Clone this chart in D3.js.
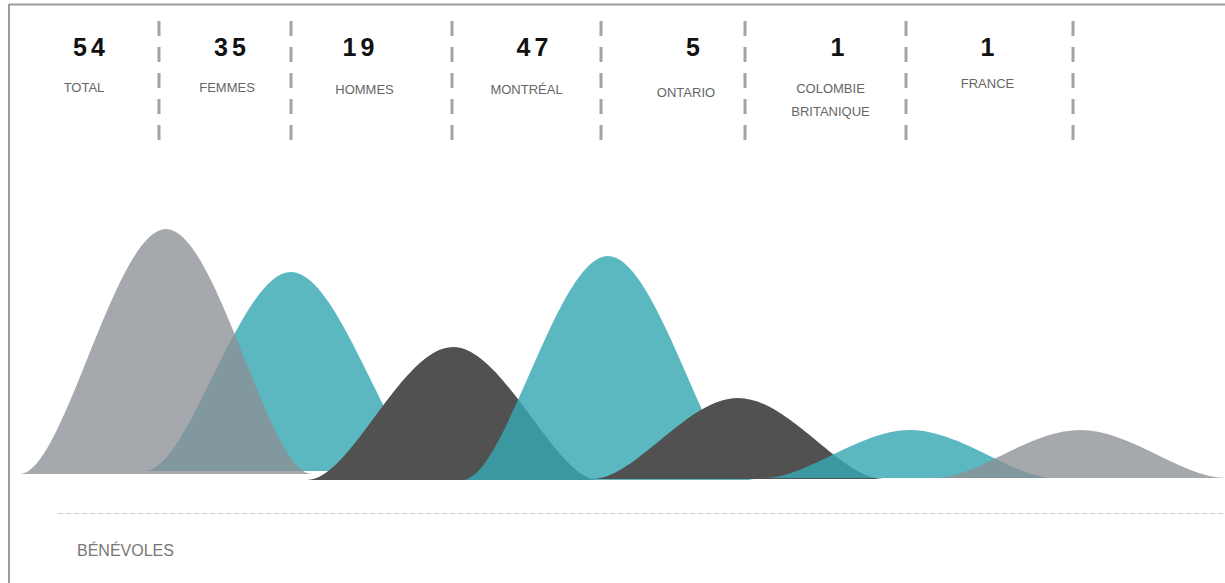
<!DOCTYPE html>
<html lang="fr">
<head>
<meta charset="utf-8">
<title>Bénévoles</title>
<script src="https://cdn.jsdelivr.net/npm/d3@7"></script>
<style>
    html, body { margin: 0; padding: 0; background: #fff; }
    svg { display: block; font-family: "Liberation Sans", Arial, Helvetica, sans-serif; }
</style>
</head>
<body>
<div id="container"></div>
<script>
// --- données ---
const categories = ['TOTAL', 'FEMMES', 'HOMMES', 'MONTRÉAL', 'ONTARIO', 'COLOMBIE BRITANIQUE', 'FRANCE'];
const valeurs = [54, 35, 19, 47, 5, 1, 1];
// hauteur relative de chaque "montagne" (estimée sur l'image)
const hauteurs = [245, 199, 133, 224, 81, 48, 48];
const titre = 'BÉNÉVOLES';

// --- mise en page ---
const width = 1225;
const height = 583;
const bords = [9, 159, 291, 452, 601, 745, 906, 1073]; // séparateurs des colonnes d'en-tête
const baseY = 477;
const demiLargeur = 146;
// petits décalages à la main, comme sur la maquette
const decalNombre = [7, 7, -11, 8, 22, 14, 0];
const decalLabel = [0, 2, -7, 0, 13, 5, -2];
const basesLabel = [92, 92, 94, 94, 97, 93, 88];
const decalPic = [7, 0, 1, 7, -7, 4, 7];
const decalBase = [-3, -6, 3, 3, 2, 1, 1];

// --- styles ---
const teintes = ['gris', 'bleu', 'fonce', 'bleu', 'fonce', 'bleu', 'gris'];
const palette = {
    gris: { fill: 'rgb(140,144,149)', opacity: 0.78 },
    bleu: { fill: 'rgb(55,168,179)', opacity: 0.82 },
    fonce: { fill: '#515151', opacity: 1 }
};
// ordre d'empilement (le total gris passe par-dessus les femmes)
const ordre = [1, 0, 2, 3, 4, 5, 6];

const svg = d3.select('#container')
    .append('svg')
    .attr('width', width)
    .attr('height', height);

// cadre
svg.append('line')
    .attr('x1', 9).attr('x2', width).attr('y1', 4.5).attr('y2', 4.5)
    .attr('stroke', '#9b9b9b').attr('stroke-width', 2);
svg.append('line')
    .attr('x1', 9).attr('x2', 9).attr('y1', 4).attr('y2', height)
    .attr('stroke', '#9b9b9b').attr('stroke-width', 2);

// échelles
const x = d3.scaleOrdinal().domain(categories).range(bords.slice(1));
const centre = d3.scaleOrdinal().domain(categories)
    .range(bords.slice(1).map((b, i) => (b + bords[i]) / 2));
const y = d3.scaleLinear().domain([0, 250]).range([baseY, baseY - 250]);

// séparateurs pointillés
svg.append('g')
    .selectAll('line')
    .data(categories)
    .join('line')
    .attr('x1', d => x(d)).attr('x2', d => x(d))
    .attr('y1', 21).attr('y2', 141)
    .attr('stroke', '#a3a3a3')
    .attr('stroke-width', 3)
    .attr('stroke-dasharray', '15 11');

// chiffres
svg.append('g')
    .selectAll('text')
    .data(categories)
    .join('text')
    .attr('x', (d, i) => centre(d) + decalNombre[i])
    .attr('y', 56)
    .attr('text-anchor', 'middle')
    .attr('font-size', 25)
    .attr('font-weight', 'bold')
    .attr('letter-spacing', 4)
    .attr('fill', '#111')
    .text((d, i) => valeurs[i]);

// libellés
const labels = svg.append('g')
    .selectAll('text')
    .data(categories)
    .join('text')
    .attr('text-anchor', 'middle')
    .attr('font-size', 13)
    .attr('fill', '#666');

labels.each(function (d, i) {
    const lignes = d === 'COLOMBIE BRITANIQUE' ? d.split(' ') : [d];
    d3.select(this).selectAll('tspan')
        .data(lignes)
        .join('tspan')
        .attr('x', centre(d) + decalLabel[i])
        .attr('y', (l, j) => basesLabel[i] + j * 23)
        .text(l => l);
});

// montagnes
function montagne(i) {
    const cat = categories[i];
    const cx = x(cat) + decalPic[i];
    const w = demiLargeur;
    const y0 = y.copy().range([baseY + decalBase[i], baseY + decalBase[i] - 250]);
    const b = y0(0);
    const t = y0(hauteurs[i]);
    const p = d3.path();
    p.moveTo(cx - w, b);
    p.bezierCurveTo(cx - w + 0.3 * w, b, cx - 0.35 * w, t, cx, t);
    p.bezierCurveTo(cx + 0.35 * w, t, cx + w - 0.3 * w, b, cx + w, b);
    p.closePath();
    return p.toString();
}

svg.append('g')
    .selectAll('path')
    .data(ordre)
    .join('path')
    .attr('d', i => montagne(i))
    .attr('fill', i => palette[teintes[i]].fill)
    .attr('fill-opacity', i => palette[teintes[i]].opacity);

// ligne de base pointillée + titre
svg.append('line')
    .attr('x1', 58).attr('x2', width)
    .attr('y1', 513.5).attr('y2', 513.5)
    .attr('stroke', '#cfcfcf')
    .attr('stroke-width', 1)
    .attr('stroke-dasharray', '5 3');

svg.append('text')
    .attr('x', 77)
    .attr('y', 556)
    .attr('font-size', 16)
    .attr('fill', '#777')
    .text(titre);
</script>
</body>
</html>
